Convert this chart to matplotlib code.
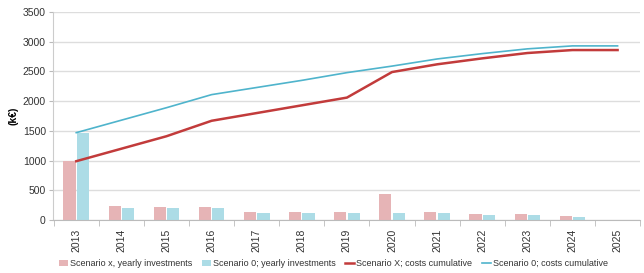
import matplotlib
matplotlib.use('Agg')
import matplotlib.pyplot as plt
import numpy as np

plt.rcParams['font.family'] = ['Liberation Sans', 'DejaVu Sans']

years = ['2013', '2014', '2015', '2016', '2017', '2018', '2019',
         '2020', '2021', '2022', '2023', '2024', '2025']
invest_x = [1000, 230, 220, 220, 140, 140, 140, 430, 140, 100, 100, 70, 0]
invest_0 = [1470, 210, 210, 210, 120, 120, 120, 120, 120, 80, 80, 50, 0]
cum_x = [990, 1200, 1410, 1670, 1800, 1930, 2060, 2490, 2620, 2720, 2810, 2860, 2860]
cum_0 = [1470, 1680, 1890, 2110, 2230, 2350, 2480, 2590, 2710, 2800, 2880, 2930, 2930]

pink = '#e6b4b6'
lightblue = '#acdce6'
red = '#c23b3b'
blue = '#4fb4cc'

fig = plt.figure(figsize=(6.44, 2.73), dpi=100)
ax = fig.add_axes([0.082, 0.194, 0.912, 0.762])

x = np.arange(len(years))
w = 0.27
b1 = ax.bar(x - 0.15, invest_x, width=w, color=pink, label='Scenario x, yearly investments', zorder=2)
b2 = ax.bar(x + 0.15, invest_0, width=w, color=lightblue, label='Scenario 0; yearly investments', zorder=2)
l1, = ax.plot(x, cum_x, color=red, linewidth=1.8, label='Scenario X; costs cumulative', zorder=3)
l2, = ax.plot(x, cum_0, color=blue, linewidth=1.2, label='Scenario 0; costs cumulative', zorder=3)

ax.set_xlim(-0.52, 12.5)
ax.set_ylim(0, 3500)
ax.set_yticks(range(0, 3501, 500))
ax.set_xticks(x)
ax.set_xticklabels(years, rotation=90, fontsize=7.5, color='#333333')
ax.set_xticks(np.arange(-0.5, 12.6, 1), minor=True)
ax.tick_params(axis='x', which='major', length=0, pad=6)
ax.tick_params(axis='x', which='minor', length=4, color='#bbbbbb')
ax.tick_params(axis='y', labelsize=7.5, length=3, color='#bbbbbb', pad=2, labelcolor='#333333')
ax.set_ylabel('(k€)', fontsize=7.5, fontweight='bold', labelpad=3)

ax.grid(axis='y', color='#dddddd', linewidth=1, zorder=0)
ax.set_axisbelow(True)
for s in ['top', 'right']:
    ax.spines[s].set_visible(False)
ax.spines['left'].set_color('#cccccc')
ax.spines['bottom'].set_color('#bbbbbb')

fig.legend(handles=[b1, b2, l1, l2], loc='center left', bbox_to_anchor=(0.083, 0.035),
           ncol=4, frameon=False, fontsize=6.5, handlelength=1.0, handletextpad=0.2,
           columnspacing=1.1, labelcolor='#333333', borderpad=0.1)

plt.savefig('out.png', dpi=100)
plt.close()
